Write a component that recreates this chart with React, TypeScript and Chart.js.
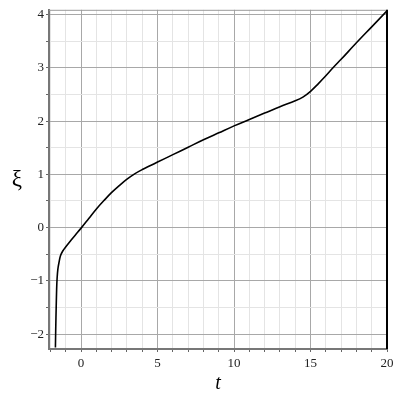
import React, { useEffect, useRef } from "react";
import { Chart, registerables } from "chart.js";

Chart.register(...registerables);

const tValues = [-1.68, -1.66, -1.63, -1.6, -1.57, -1.52, -1.45, -1.35, -1.2, -1.0, -0.7, -0.35, 0, 0.5, 1, 1.5, 2, 2.5, 3, 3.5, 4, 4.5, 5, 6, 7, 8, 9, 10, 11, 12, 13, 14, 14.5, 15, 15.5, 16, 16.5, 17, 18, 19, 20];
const xiValues = [-2.25, -1.9, -1.5, -1.15, -0.95, -0.78, -0.66, -0.53, -0.44, -0.36, -0.25, -0.13, -0.01, 0.17, 0.35, 0.51, 0.66, 0.79, 0.91, 1.01, 1.09, 1.16, 1.23, 1.37, 1.51, 1.65, 1.78, 1.91, 2.03, 2.15, 2.27, 2.38, 2.45, 2.56, 2.7, 2.85, 3.01, 3.16, 3.47, 3.77, 4.07];
const xTickLabels = [0, 5, 10, 15, 20];
const yTickLabels = [-2, -1, 0, 1, 2, 3, 4];
const xTitle = "t";
const yTitle = "ξ";

const MAJOR = "#a8a8a8";
const MINOR = "#e4e4e4";
const FONT = "'Liberation Serif', 'Times New Roman', serif";

const fmt = (v: number) => (v < 0 ? "\u2212" + Math.abs(v) : String(v));
const near = (v: number, list: number[]) => list.some((x) => Math.abs(x - v) < 1e-6);

export default function App() {
  const ref = useRef<HTMLCanvasElement | null>(null);
  useEffect(() => {
    if (!ref.current) return;
    const framePlugin = {
      id: "frame",
      afterDraw(chart: any) {
        const { ctx, chartArea } = chart;
        const { left, right, top, bottom } = chartArea;
        ctx.save();
        ctx.strokeStyle = "#9a9a9a";
        ctx.lineWidth = 1;
        ctx.beginPath();
        ctx.moveTo(left, top + 0.5);
        ctx.lineTo(right, top + 0.5);
        ctx.stroke();
        ctx.strokeStyle = "#000";
        ctx.lineWidth = 2;
        ctx.beginPath();
        ctx.moveTo(right, top);
        ctx.lineTo(right, bottom);
        ctx.stroke();
        ctx.fillStyle = "#000";
        ctx.textAlign = "center";
        ctx.textBaseline = "middle";
        ctx.font = "23px " + FONT;
        ctx.fillText(yTitle, 17, 180);
        ctx.font = "italic 20px " + FONT;
        ctx.fillText(xTitle, (left + right) / 2, 384);
        ctx.restore();
      },
    };
    const chart = new Chart(ref.current, {
      type: "line",
      data: {
        datasets: [
          {
            data: tValues.map((t, i) => ({ x: t, y: xiValues[i] })),
            borderColor: "#000",
            borderWidth: 1.6,
            pointRadius: 0,
            fill: false,
            tension: 0.35,
          },
        ],
      },
      options: {
        animation: false,
        responsive: true,
        maintainAspectRatio: false,
        layout: { padding: { top: 9, right: 13, left: 0, bottom: 0 } },
        plugins: { legend: { display: false }, tooltip: { enabled: false } },
        scales: {
          x: {
            type: "linear",
            min: -2.1,
            max: 20,
            afterFit: (s: any) => {
              s.height = 51;
            },
            ticks: {
              stepSize: 1,
              includeBounds: false,
              autoSkip: false,
              maxRotation: 0,
              padding: 4,
              color: "#222",
              font: { family: FONT, size: 13 },
              callback: (v: any) => (near(Number(v), xTickLabels) ? fmt(Number(v)) : ""),
            },
            grid: {
              color: (c: any) => (near(c.tick?.value, xTickLabels) ? MAJOR : MINOR),
              tickColor: "#666",
              tickLength: 3,
              drawTicks: true,
            },
            border: { display: true, color: "#777", width: 2 },
          },
          y: {
            type: "linear",
            min: -2.28,
            max: 4.09,
            afterFit: (s: any) => {
              s.width = 49;
            },
            ticks: {
              stepSize: 0.5,
              includeBounds: false,
              autoSkip: false,
              padding: 2,
              color: "#222",
              font: { family: FONT, size: 13 },
              callback: (v: any) => (near(Number(v), yTickLabels) ? fmt(Number(v)) : ""),
            },
            grid: {
              color: (c: any) => (near(c.tick?.value, yTickLabels) ? MAJOR : MINOR),
              tickColor: "#666",
              tickLength: 3,
              drawTicks: true,
            },
            border: { display: true, color: "#777", width: 2 },
          },
        },
      },
      plugins: [framePlugin],
    } as any);
    return () => chart.destroy();
  }, []);
  return (
    <div style={{ position: "absolute", left: 0, top: 0, width: 400, height: 400, background: "#fff" }}>
      <canvas ref={ref} />
    </div>
  );
}
